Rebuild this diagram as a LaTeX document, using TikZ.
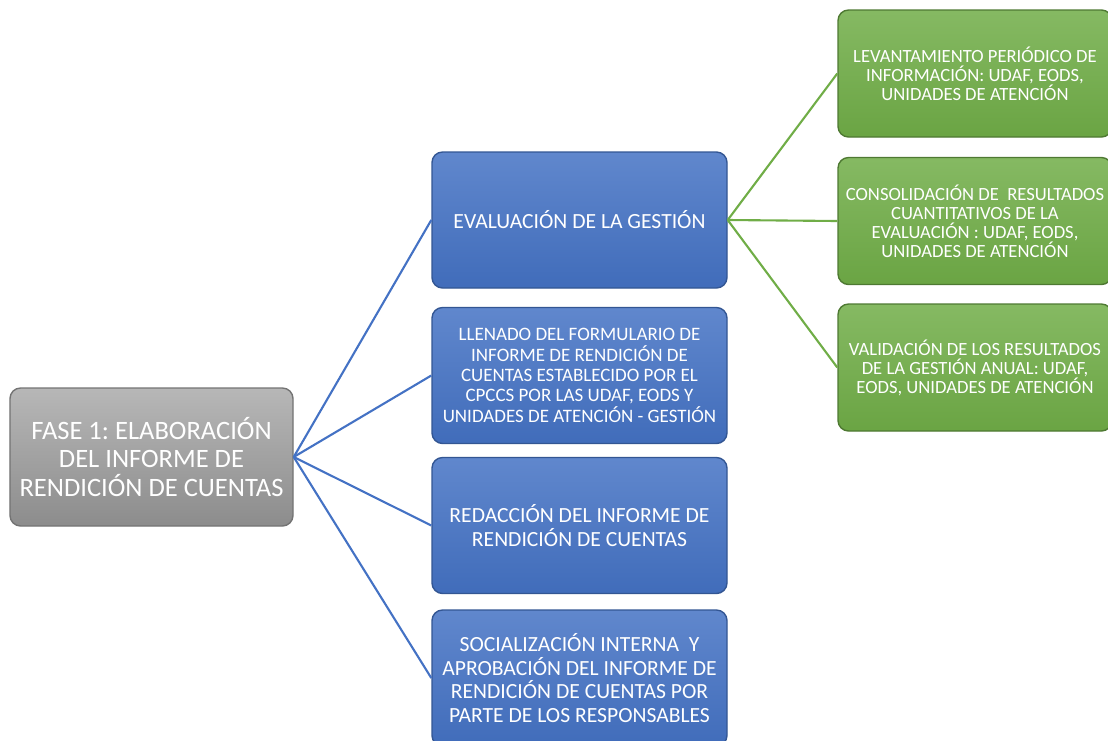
\documentclass[tikz,border=0pt]{standalone}
\usepackage{fontspec}
\setmainfont{Carlito}
\usepackage{xcolor}
\frenchspacing

\definecolor{grisfase}{RGB}{165,165,165}
\definecolor{azultarea}{RGB}{68,114,196}
\definecolor{verdesub}{RGB}{112,173,71}

\tikzset{
  caja/.style={rounded corners=6pt,inner sep=0pt,align=center,text=white,line width=0.8pt},
  fase/.style={caja,draw=grisfase!70!black,top color=grisfase!80!white,bottom color=grisfase!85!black,
    minimum width=5.66cm,minimum height=2.76cm,font=\fontsize{15.1}{16.2}\selectfont},
  tarea/.style={caja,draw=azultarea!75!black,top color=azultarea!85!white,bottom color=azultarea!95!black,
    minimum width=5.9cm,minimum height=2.72cm},
  sub/.style={caja,draw=verdesub!70!black,top color=verdesub!85!white,bottom color=verdesub!95!black,
    minimum width=5.48cm,minimum height=2.54cm,font=\fontsize{10.6}{10.8}\selectfont},
  ramaazul/.style={draw=azultarea,line width=1.2pt},
  ramaverde/.style={draw=verdesub,line width=1.2pt}
}

\begin{document}
\begin{tikzpicture}
\useasboundingbox (0,0) rectangle (22.16,-14.8);
\path
    (3.03,-9.14) node [fase] (fase1)
      {FASE 1: ELABORACIÓN\\ DEL INFORME DE\\ RENDICIÓN DE CUENTAS};
\path
    [font=\fontsize{12.3}{13.3}\selectfont]
    (11.59,-4.40) node [tarea] (eval) {EVALUACIÓN DE LA GESTIÓN}
    (11.59,-7.51) node [tarea,font=\fontsize{10.8}{11.6}\selectfont] (form)
      {LLENADO DEL FORMULARIO DE\\ INFORME DE RENDICIÓN DE\\ CUENTAS ESTABLECIDO POR EL\\
       CPCCS POR LAS UDAF, EODS Y\\ UNIDADES DE ATENCIÓN - GESTIÓN}
    (11.59,-10.51) node [tarea] (redac) {REDACCIÓN DEL INFORME DE\\ RENDICIÓN DE CUENTAS}
    (11.59,-13.56) node [tarea] (social)
      {SOCIALIZACIÓN INTERNA\ \ Y\\ APROBACIÓN DEL INFORME DE\\ RENDICIÓN DE CUENTAS POR\\ PARTE DE LOS RESPONSABLES};
\path
    (19.5,-1.47) node [sub] (levant)
      {LEVANTAMIENTO PERIÓDICO DE\\ INFORMACIÓN: UDAF, EODS,\\ UNIDADES DE ATENCIÓN}
    (19.5,-4.42) node [sub] (consol)
      {CONSOLIDACIÓN DE\ \ RESULTADOS\\ CUANTITATIVOS DE LA\\ EVALUACIÓN : UDAF, EODS,\\ UNIDADES DE ATENCIÓN}
    (19.5,-7.35) node [sub] (valid)
      {VALIDACIÓN DE LOS RESULTADOS\\ DE LA GESTIÓN ANUAL: UDAF,\\ EODS, UNIDADES DE ATENCIÓN};
\draw [ramaazul] (fase1.east) -- (eval.west);
\draw [ramaazul] (fase1.east) -- (form.west);
\draw [ramaazul] (fase1.east) -- (redac.west);
\draw [ramaazul] (fase1.east) -- (social.west);
\draw [ramaverde] (eval.east) -- (levant.west);
\draw [ramaverde] (eval.east) -- (consol.west);
\draw [ramaverde] (eval.east) -- (valid.west);
\end{tikzpicture}
\end{document}
